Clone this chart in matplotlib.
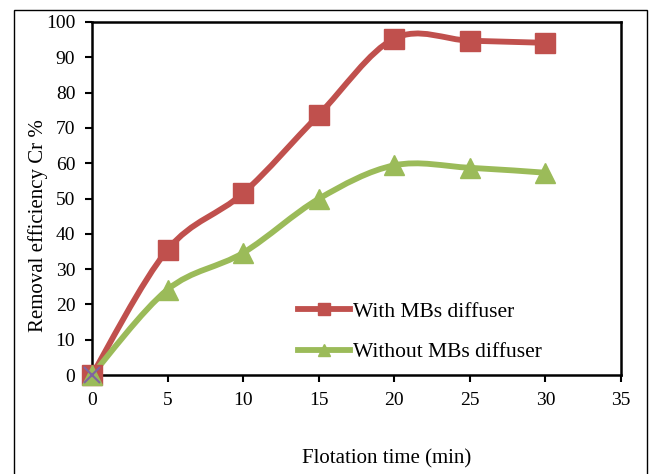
import numpy as np
import matplotlib
matplotlib.use("Agg")
import matplotlib.pyplot as plt
from matplotlib.path import Path
from matplotlib.patches import PathPatch, Rectangle
from matplotlib.lines import Line2D

plt.rcParams['font.family'] = ['Liberation Serif', 'DejaVu Serif']

# data
time_min = [0, 5, 10, 15, 20, 25, 30]
with_mbs = [0, 35.5, 51.5, 73.7, 95.3, 94.7, 94.1]
without_mbs = [0, 24.2, 34.6, 49.9, 59.4, 58.7, 57.3]

xticks = [0, 5, 10, 15, 20, 25, 30, 35]
yticks = [0, 10, 20, 30, 40, 50, 60, 70, 80, 90, 100]

red = '#C0504D'
green = '#9BBB59'
purple = '#8064A2'


def smooth_path(x, y, t=1/6.):
    # Excel-like smoothed line: cubic bezier through each point
    x = np.asarray(x, float)
    y = np.asarray(y, float)
    n = len(x)
    verts = [(x[0], y[0])]
    codes = [Path.MOVETO]
    for i in range(n - 1):
        p0 = np.array([x[max(i - 1, 0)], y[max(i - 1, 0)]])
        p1 = np.array([x[i], y[i]])
        p2 = np.array([x[i + 1], y[i + 1]])
        p3 = np.array([x[min(i + 2, n - 1)], y[min(i + 2, n - 1)]])
        c1 = p1 + (p2 - p0) * t
        c2 = p2 - (p3 - p1) * t
        verts += [tuple(c1), tuple(c2), tuple(p2)]
        codes += [Path.CURVE4] * 3
    return Path(verts, codes)


fig = plt.figure(figsize=(6.54, 4.74), dpi=100)
ax = fig.add_axes([92/654, 1 - 375/474, 529/654, 353/474])

for xs, ys, c, m, ms in [(time_min, with_mbs, red, 's', 14),
                         (time_min, without_mbs, green, '^', 15)]:
    ax.add_patch(PathPatch(smooth_path(xs, ys), facecolor='none',
                           edgecolor=c, lw=4.2, capstyle='round', zorder=3))
    ax.plot(xs, ys, ls='none', marker=m, ms=ms, color=c, zorder=4, clip_on=False)

ax.plot([0], [0], ls='none', marker='x', ms=11, mew=1.5, color=purple,
        zorder=5, clip_on=False)

ax.set_xlim(0, 35)
ax.set_ylim(0, 100)
ax.set_xticks(xticks)
ax.set_yticks(yticks)
ax.tick_params(direction='out', length=5, width=1.5, labelsize=14, pad=7)
for s in ax.spines.values():
    s.set_linewidth(1.8)

fig.text(387/654, 1 - 459/474, 'Flotation time (min)', ha='center', va='center',
         fontsize=15)
fig.text(38/654, 1 - 226/474, 'Removal efficiency Cr %', ha='center',
         va='center', rotation=90, fontsize=15)

handles = [Line2D([], [], color=red, lw=4.2, marker='s', ms=8),
           Line2D([], [], color=green, lw=4.2, marker='^', ms=8)]
ax.legend(handles, ['With MBs diffuser', 'Without MBs diffuser'],
          loc='upper left', bbox_to_anchor=(0.374, 0.232), frameon=False,
          fontsize=15.5, handlelength=2.4, handletextpad=0.15,
          labelspacing=0.95, borderaxespad=0)

fig.patches.append(Rectangle((14/654, -0.02), 633/654, 1 - 10/474 + 0.02,
                             transform=fig.transFigure, fill=False,
                             edgecolor='black', lw=1.0))

fig.savefig('out.png', dpi=100)
